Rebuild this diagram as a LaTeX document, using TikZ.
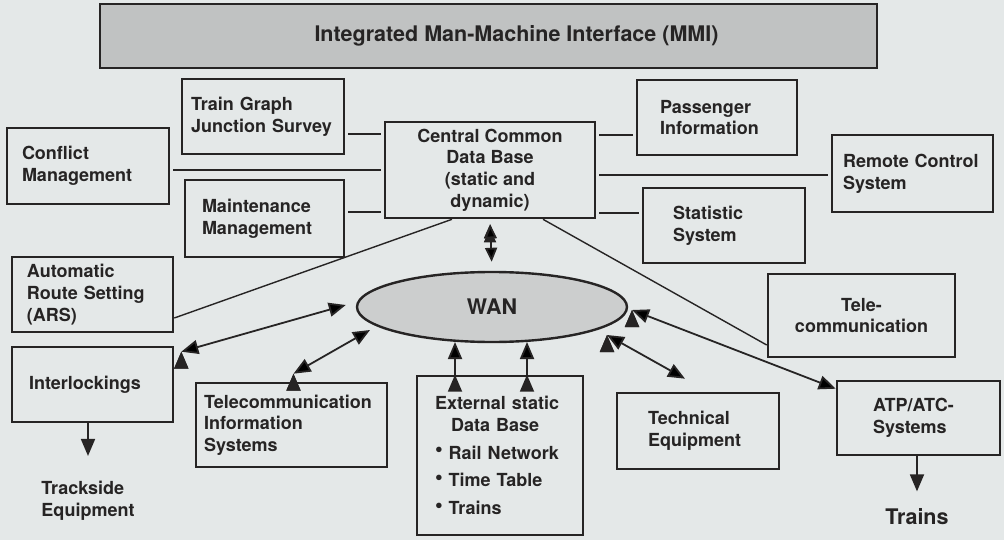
\documentclass[tikz,border=0pt]{standalone}
\usepackage{fontspec}
\setmainfont{TeX Gyre Heros}
\usepackage{tikz}
\usetikzlibrary{shapes,arrows.meta}

\definecolor{ink}{RGB}{38,36,36}
\definecolor{paper}{RGB}{228,232,232}
\definecolor{mmigray}{RGB}{192,194,194}
\definecolor{wangray}{RGB}{204,206,206}

% raised bullet for the data base list
\newcommand{\dotitem}{\raisebox{2.5pt}{\fontsize{22}{22}\selectfont\textbullet}\hspace{6pt}}

\begin{document}
\begin{tikzpicture}[x=1pt,y=-1pt,
  box/.style={shape=rectangle,draw=ink,text=ink,align=left,line width=2.6pt,inner ysep=2pt,font=\fontsize{18}{21.7}\selectfont\bfseries},
  link/.style={-,draw=ink,line width=2.2pt,shorten <=3pt,shorten >=3pt},
  thin/.style={-,draw=ink,line width=1.4pt},
  dbl/.style={{Triangle[length=17pt,width=14pt]}-{Triangle[length=17pt,width=14pt]},draw=ink,line width=1.8pt},
  feed/.style={-{Triangle[length=17pt,width=14pt]},draw=ink,line width=1.8pt}]
\fill[paper] (0,0) rectangle (1004,540);

\node[box,fill=mmigray,line width=2pt,align=center,minimum width=777pt,minimum height=64pt,font=\fontsize{21.5}{26}\selectfont\bfseries] (0) at (488.5,36) {\hspace*{56pt}Integrated Man-Machine Interface (MMI)};
\node[box,text width=144pt,inner xsep=9pt,minimum height=75pt] (1) at (263,116.5) {Train Graph\\Junction Survey};
\node[box,text width=132pt,inner xsep=15pt,minimum height=76pt] (2) at (88,166) {Conflict\\Management};
\node[box,text width=125pt,inner xsep=17pt,minimum height=77pt] (3) at (264.5,218.5) {Maintenance\\Management};
\node[box,align=center,minimum width=210pt,minimum height=96pt] (4) at (490,170) {Central Common\\Data Base\\(static and\\dynamic)};
\node[box,text width=114pt,inner xsep=23pt,minimum height=75pt] (5) at (717,117.5) {Passenger\\Information};
\node[box,text width=139pt,inner xsep=11pt,minimum height=77pt] (6) at (912.5,173.5) {Remote Control\\System};
\node[box,text width=102pt,inner xsep=30pt,minimum height=75pt] (7) at (724,225.5) {Statistic\\System};
\node[box,text width=131pt,inner xsep=15pt,minimum height=75pt] (8) at (92.5,294.5) {Automatic\\Route Setting\\(ARS)};
\node[box,text width=127pt,inner xsep=17pt,minimum height=75pt] (9) at (92.5,384.5) {Interlockings};
\node[box,text width=175pt,inner xsep=8pt,minimum height=84pt] (10) at (291.5,425) {Telecommunication\\Information\\Systems};
\node[box,text width=130pt,inner xsep=18pt,minimum height=159pt] (11) at (500,455.5) {External static\\\hspace*{16pt}Data Base\\[6pt]\dotitem Rail Network\\[6pt]\dotitem Time Table\\[6pt]\dotitem Trains};
\node[shape=ellipse,draw=ink,fill=wangray,line width=2.4pt,minimum width=270pt,minimum height=70pt,text=ink,font=\fontsize{21.5}{25}\selectfont\bfseries] (12) at (492,307) {WAN};
\node[box,align=center,minimum width=187pt,minimum height=83pt] (13) at (861.5,315.5) {Tele-\\communication};
\node[box,text width=100pt,inner xsep=31pt,minimum height=76pt] (14) at (698,431) {Technical\\Equipment};
\node[box,text width=91pt,inner xsep=36pt,minimum height=74pt] (15) at (918.5,418) {ATP/ATC-\\Systems};
\node[text=ink,align=left,font=\fontsize{18}{21.7}\selectfont\bfseries] (16) at (88,501) {Trackside\\Equipment};
\node[text=ink,font=\fontsize{21.5}{26}\selectfont\bfseries] (17) at (917,517) {Trains};

\path [link] ([yshift=-17.5pt]1.east) edge ([yshift=36pt]4.west);
\path [link] ([yshift=-4pt]2.east) edge (4.west);
\path [link] ([yshift=6.5pt]3.east) edge ([yshift=-42pt]4.west);
\path [link] ([yshift=35pt]4.east) edge ([yshift=-17.5pt]5.west);
\path [link] ([yshift=-5pt]4.east) edge ([yshift=-1.5pt]6.west);
\path [link] ([yshift=-43pt]4.east) edge ([yshift=12.5pt]7.west);
\path [thin] ([xshift=-38pt]4.south) edge ([yshift=-23.5pt]8.east);
\path [thin] ([xshift=53pt]4.south) edge ([yshift=-29.5pt]13.west);

\path [dbl,{Triangle[length=14pt,width=12pt]}-{Triangle[length=14pt,width=12pt]},shorten <=5pt,shorten >=9pt] (4.south) edge (12.north);
\path [dbl] ([shift={(7,6)}]9.north east) edge ([shift={(-10,-2)}]12.west);
\path [dbl] ([shift={(2,-8)}]10.north) edge ([shift={(-122,23)}]12.center);
\path [feed] ([xshift=-45pt]11.north) edge ([shift={(-37,35)}]12.center);
\path [feed] ([xshift=27pt]11.north) edge ([shift={(35,35)}]12.center);
\path [dbl] ([shift={(115,28)}]12.center) edge ([shift={(-13,-13)}]14.north);
\path [dbl] ([shift={(140,3)}]12.center) edge ([shift={(0,9)}]15.north west);
\draw [feed,shorten >=22pt] (9.south -| 16.north) -- (16.north);
\draw [feed,shorten >=14pt] (15.south -| 17.north) -- (17.north);
\end{tikzpicture}
\end{document}
